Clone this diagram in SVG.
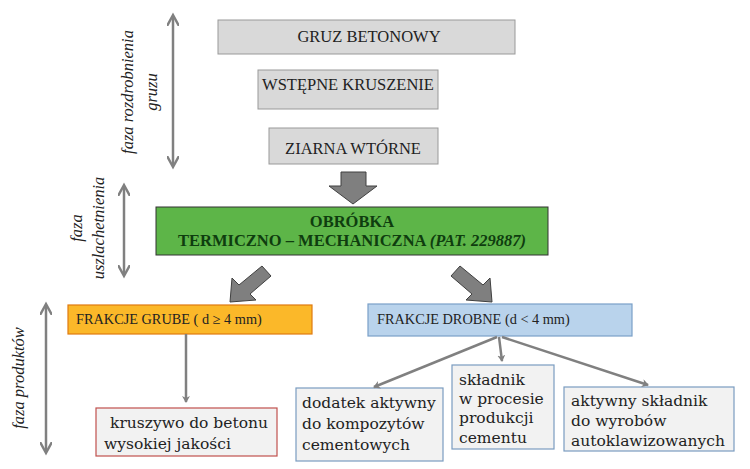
<svg xmlns="http://www.w3.org/2000/svg" width="750" height="469" viewBox="0 0 750 469">
<style>
text{font-family:"Liberation Serif","DejaVu Serif",serif;fill:#222}
.g{fill:#d9d9d9;stroke:#999;stroke-width:1}
.w{fill:#f2f2f2;stroke:#7a9cc0;stroke-width:1.2}
.c{stroke:#808080;stroke-width:2.5;fill:none}
.big{fill:#7f7f7f;stroke:#404040;stroke-width:1}
.lab{font-size:16.5px;font-style:italic}
.t{font-size:16.5px}
.b{font-family:"DejaVu Serif",serif;font-size:15.5px}
.s{font-size:14.3px}
</style>
<defs>
<marker id="ah" markerWidth="8" markerHeight="8" refX="6" refY="4" orient="auto" markerUnits="userSpaceOnUse"><path d="M0,0 L7,4 L0,8 L2,4 z" fill="#808080"/></marker>
<marker id="as" markerWidth="14" markerHeight="12" refX="10" refY="6" orient="auto-start-reverse" markerUnits="userSpaceOnUse"><path d="M0,0 L11,6 L0,12" fill="none" stroke="#808080" stroke-width="2.5"/></marker>
</defs>
<g id="phases">
<line class="c" x1="173" y1="16" x2="173" y2="166" marker-start="url(#as)" marker-end="url(#as)"/>
<line class="c" x1="124" y1="186" x2="124" y2="275" marker-start="url(#as)" marker-end="url(#as)"/>
<line class="c" x1="46" y1="305" x2="46" y2="452" marker-start="url(#as)" marker-end="url(#as)"/>
<text class="lab" transform="translate(133,92) rotate(-90)" text-anchor="middle">faza rozdrobnienia</text>
<text class="lab" transform="translate(157,92) rotate(-90)" text-anchor="middle">gruzu</text>
<text class="lab" transform="translate(82,228) rotate(-90)" text-anchor="middle">faza</text>
<text class="lab" transform="translate(104,228) rotate(-90)" text-anchor="middle">uszlachetnienia</text>
<text class="lab" transform="translate(24,378) rotate(-90)" text-anchor="middle">faza produktów</text>
</g>
<g id="n1"><rect class="g" x="218" y="20" width="297" height="34"/><text class="t" x="369" y="42" text-anchor="middle">GRUZ BETONOWY</text></g>
<g id="n2"><rect class="g" x="258" y="70" width="180" height="39"/><text class="t" x="348" y="90" text-anchor="middle">WSTĘPNE KRUSZENIE</text></g>
<g id="n3"><rect class="g" x="269" y="128" width="169" height="36"/><text class="t" x="353" y="154" text-anchor="middle">ZIARNA WTÓRNE</text></g>
<g id="n4"><rect x="156" y="207" width="392" height="48" fill="#5db548" stroke="#333" stroke-width="1"/>
<text class="t" x="352" y="227" text-anchor="middle" font-weight="bold" style="fill:#0f3d0f">OBRÓBKA</text>
<text class="t" x="352" y="246" text-anchor="middle" font-weight="bold" style="fill:#0f3d0f">TERMICZNO – MECHANICZNA <tspan font-style="italic">(PAT. 229887)</tspan></text></g>
<g id="n5"><rect x="68" y="305" width="244" height="29" fill="#fbb829" stroke="#e07a10" stroke-width="1.2"/><text class="s" x="76" y="324">FRAKCJE GRUBE ( d ≥ 4 mm)</text></g>
<g id="n6"><rect x="368" y="304" width="264" height="32" fill="#b9d3ec" stroke="#7aa0c8" stroke-width="1.2"/><text class="s" x="377" y="324">FRAKCJE DROBNE (d &lt; 4 mm)</text></g>
<g id="n7"><rect x="96" y="408" width="181" height="48" fill="#f2f2f2" stroke="#c0504d" stroke-width="1.2"/><text class="b" x="189" y="428" text-anchor="middle">kruszywo do betonu</text><text class="b" x="104" y="449">wysokiej jakości</text></g>
<g id="n8"><rect class="w" x="296" y="388" width="147" height="73"/><text class="b" x="302" y="408">dodatek aktywny</text><text class="b" x="302" y="429">do kompozytów</text><text class="b" x="302" y="450">cementowych</text></g>
<g id="n9"><rect class="w" x="452" y="365" width="102" height="84"/><text class="b" x="459" y="385">składnik</text><text class="b" x="459" y="404">w procesie</text><text class="b" x="459" y="423">produkcji</text><text class="b" x="459" y="443">cementu</text></g>
<g id="n10"><rect class="w" x="564" y="387" width="170" height="64"/><text class="b" x="571" y="406">aktywny składnik</text><text class="b" x="571" y="426">do wyrobów</text><text class="b" x="571" y="446">autoklawizowanych</text></g>
<g id="connectors">
<path class="big" d="M341,172 L366,172 L366,186 L377,186 L353,204 L329,186 L341,186 z"/>
<path class="big" d="M262,266 L271,276 L250,294 L256,300 L230,302 L232,278 L239,285 z"/>
<path class="big" d="M460,266 L451,276 L472,294 L466,300 L492,302 L490,278 L483,285 z"/>
<line class="c" x1="186" y1="334" x2="186" y2="402" marker-end="url(#ah)" stroke-width="2.2"/>
<line class="c" x1="497" y1="337" x2="374" y2="387" marker-end="url(#ah)" stroke-width="2.2"/>
<line class="c" x1="499" y1="337" x2="502" y2="361" marker-end="url(#ah)" stroke-width="2.2"/>
<line class="c" x1="502" y1="337" x2="648" y2="385" marker-end="url(#ah)" stroke-width="2.2"/>
</g>
</svg>
